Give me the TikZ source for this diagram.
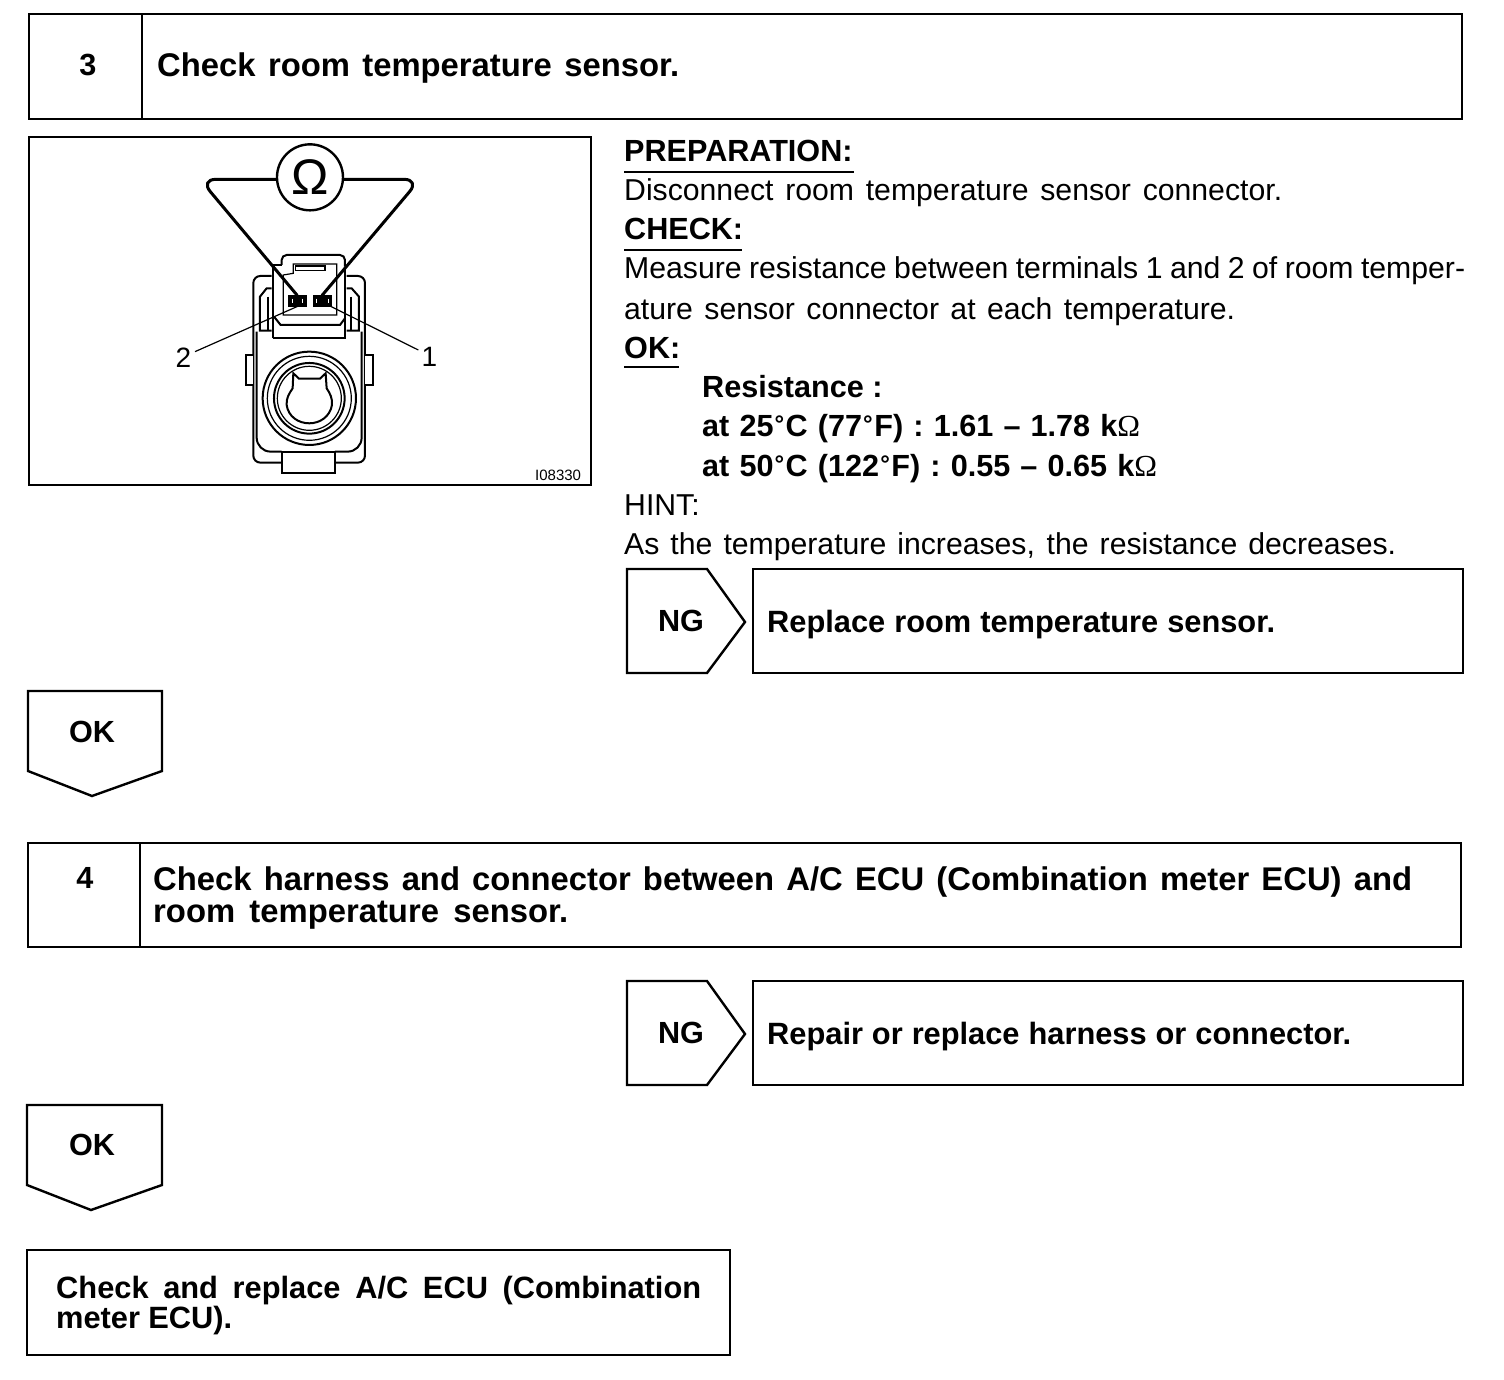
\documentclass[tikz,border=0pt]{standalone}
\usepackage{fontspec}
\setmainfont{Liberation Sans}
\newfontfamily\serifomega{Liberation Serif}
\newcommand{\fw}[2]{\makebox[#1pt][s]{#2}}
\newcommand{\ohm}{{\serifomega\mdseries Ω}}
\newcommand{\degr}{\kern1pt\raisebox{0.12em}{\fontsize{24}{30}\selectfont°}\kern1.5pt}
\tikzset{
  frame/.style={draw=black,line width=2.4pt,fill=none,inner sep=0pt,outer sep=0pt,anchor=north west},
  outline/.style={draw=black,line width=2.4pt,line join=miter},
  body/.style={anchor=base west,inner sep=0pt,font=\fontsize{30.2}{36}\selectfont},
  bold/.style={anchor=base west,inner sep=0pt,font=\fontsize{30.6}{36}\selectfont\bfseries},
  title/.style={anchor=base west,inner sep=0pt,font=\fontsize{32.8}{36}\selectfont\bfseries},
  reptext/.style={anchor=base west,inner sep=0pt,font=\fontsize{30.8}{36}\selectfont\bfseries},
  tag/.style={anchor=base,inner sep=0pt,font=\fontsize{30.6}{36}\selectfont\bfseries},
  rule/.style={draw=black,line width=1.2pt},
  part/.style={draw=black,line width=2pt},
  thinpart/.style={draw=black,line width=1.2pt},
  wire/.style={draw=black,line width=3pt,line join=round},
  leader/.style={draw=black,line width=1.2pt},
  term/.style={draw=black,fill=black,inner sep=0pt,outer sep=0pt,minimum width=18pt,minimum height=11pt},
  callout/.style={anchor=center,inner sep=0pt,font=\fontsize{28}{30}\selectfont},
}
\begin{document}
\begin{tikzpicture}[x=1pt,y=-1pt]
\useasboundingbox (0,0) rectangle (1504,1380);

% step 3
\node[frame,minimum width=1433pt,minimum height=105pt] (hdrA) at (29,14) {};
\draw[outline] (142,14) -- (142,119);
\node[tag] (numA) at (88,76) {3};
\node[title] (titleA) at (157,77) {\fw{522}{Check room temperature sensor.}};

% figure frame
\node[frame,minimum width=562pt,minimum height=348pt] (figframe) at (29,137) {};
\node[anchor=base west,inner sep=0pt,font=\fontsize{15}{16}\selectfont] (figno) at (535,480) {I08330};

% text column
\node[bold] (prep) at (624,162) {PREPARATION:};
\draw[rule] (624,172) -- (854,172);
\node[body] (l1) at (624,201) {\fw{658}{Disconnect room temperature sensor connector.}};
\node[bold] (chk) at (624,240) {CHECK:};
\draw[rule] (624,250) -- (742,250);
\node[body] (l2) at (624,279) {\fw{841}{Measure resistance between terminals 1 and 2 of room temper-}};
\node[body] (l3) at (624,319) {\fw{611}{ature sensor connector at each temperature.}};
\node[bold] (okh) at (624,358) {OK:};
\draw[rule] (624,367) -- (679,367);
\node[bold] (r0) at (702,397) {Resistance :};
\node[bold] (r1) at (702,436) {\fw{438}{at 25\degr C (77\degr F) : 1.61 – 1.78 k\ohm}};
\node[bold] (r2) at (702,476) {\fw{455}{at 50\degr C (122\degr F) : 0.55 – 0.65 k\ohm}};
\node[body] (hint) at (624,515) {HINT:};
\node[body] (l4) at (624,554) {\fw{772}{As the temperature increases, the resistance decreases.}};

% NG 1
\draw[outline] (627,569) -- (707,569) -- (745,622) -- (707,673) -- (627,673) -- cycle;
\node[tag] (ngA) at (681,631) {NG};
\node[frame,minimum width=710pt,minimum height=104pt] (repA) at (753,569) {};
\node[reptext] (repAt) at (767,632) {\fw{508}{Replace room temperature sensor.}};

% OK 1
\draw[outline] (28,691) -- (162,691) -- (162,771) -- (92,796) -- (28,771) -- cycle;
\node[tag] (okA) at (92,742) {OK};

% step 4
\node[frame,minimum width=1433pt,minimum height=104pt] (hdrB) at (28,843) {};
\draw[outline] (140,843) -- (140,947);
\node[tag] (numB) at (85,888) {4};
\node[title] (titleB1) at (153,890) {\fw{1259}{Check harness and connector between A/C ECU (Combination meter ECU) and}};
\node[title] (titleB2) at (153,922) {\fw{415}{room temperature sensor.}};

% NG 2
\draw[outline] (627,981) -- (707,981) -- (745,1034) -- (707,1085) -- (627,1085) -- cycle;
\node[tag] (ngB) at (681,1043) {NG};
\node[frame,minimum width=710pt,minimum height=104pt] (repB) at (753,981) {};
\node[reptext] (repBt) at (767,1044) {\fw{584}{Repair or replace harness or connector.}};

% OK 2
\draw[outline] (27,1105) -- (162,1105) -- (162,1185) -- (91,1210) -- (27,1185) -- cycle;
\node[tag] (okB) at (92,1155) {OK};

% final
\node[frame,minimum width=703pt,minimum height=105pt] (fin) at (27,1250) {};
\node[reptext] (fin1) at (56,1298) {\fw{645}{Check and replace A/C ECU (Combination}};
\node[reptext] (fin2) at (56,1328) {\fw{176}{meter ECU).}};

% sensor drawing, in 1/3-pixel units
\begin{scope}[shift={(150,140)},x=0.3333pt,y=-0.3333pt]
  % connector body
  \draw[part,rounded corners=7pt] (365,408) -- (310,408) -- (310,968) -- (395,968);
  \draw[part,rounded corners=7pt] (555,968) -- (645,968) -- (645,408) -- (590,408);
  \draw[part,rounded corners=14pt] (320,575) -- (320,935) -- (395,935);
  \draw[part,rounded corners=14pt] (555,935) -- (635,935) -- (635,575);
  \draw[part,fill=white] (395,935) rectangle (555,1000);
  \draw[part,fill=white] (310,645) -- (287,645) -- (287,735) -- (310,735);
  \draw[part,fill=white] (645,645) -- (668,645) -- (668,735) -- (645,735);
  % rings
  \draw[part] (478,775) circle (140);
  \draw[thinpart] (478,775) circle (126);
  \draw[part] (478,775) circle (106);
  \draw[thinpart] (478,775) circle (96);
  % key
  \draw[part] (430,700) -- (447,716) -- (510,716) -- (527,700) -- (530,745)
     .. controls (540,760) and (548,775) .. (546,795)
     .. controls (540,830) and (510,850) .. (478,850)
     .. controls (445,850) and (415,830) .. (410,795)
     .. controls (408,775) and (418,760) .. (428,745) -- cycle;
  % side clips
  \draw[part] (365,445) -- (350,445) -- (330,470) -- (330,572) -- (365,572);
  \draw[part] (355,470) -- (355,572);
  \draw[part] (590,445) -- (605,445) -- (627,470) -- (627,572) -- (590,572);
  \draw[part] (603,470) -- (603,572);
  % plug
  \draw[part] (370,595) -- (370,375) -- (395,375);
  \draw[part,rounded corners=5pt] (395,375) -- (395,345) -- (585,345) -- (585,380);
  \draw[part] (585,380) -- (585,595) -- (370,595);
  \draw[thinpart] (400,525) -- (400,405) -- (430,400) -- (430,372) -- (560,372) -- (560,525) -- cycle;
  \draw[thinpart] (437,378) rectangle (525,392);
  \draw[part] (372,530) -- (392,555) -- (570,555) -- (585,535);
  % terminals
  \node[term] (t2) at (442,483) {};
  \node[term] (t1) at (516,483) {};
  \draw[draw=white,line width=0.8pt] (428,476) -- (428,490) (458,476) -- (458,490) (500,476) -- (500,490) (534,476) -- (534,490);
  % meter and wires
  \node[draw=black,line width=2.4pt,circle,minimum size=66pt,inner sep=0pt,outer sep=0pt,font=\fontsize{50}{54}\selectfont] (meter) at (480,112) {Ω};
  \coordinate (cl) at (150,118);
  \coordinate (cr) at (810,118);
  \draw[wire,rounded corners=16pt] (meter.west |- 0,118) -- (cl) -- (t2.north);
  \draw[wire,rounded corners=16pt] (meter.east |- 0,118) -- (cr) -- (t1.north);
  % callouts
  \node[callout] (n2) at (100,652) {2};
  \node[callout] (n1) at (838,650) {1};
  \coordinate (a2) at (135,635);
  \coordinate (a1) at (805,630);
  \draw[leader] (a2) -- (t2.south);
  \draw[leader] (a1) -- (t1.south east);
\end{scope}
\end{tikzpicture}
\end{document}
